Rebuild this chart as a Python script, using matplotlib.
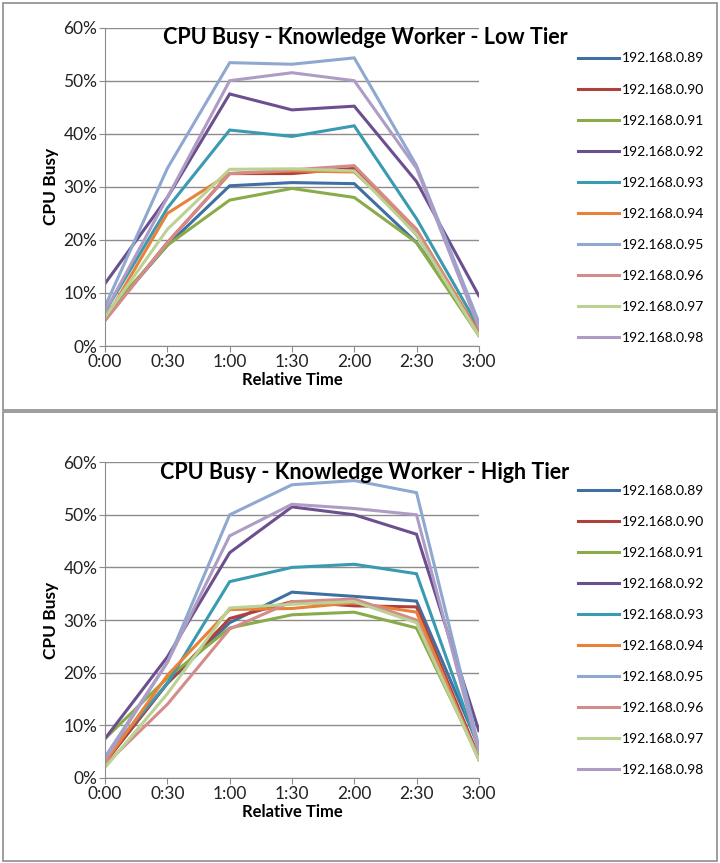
import matplotlib
matplotlib.use('Agg')
import matplotlib.pyplot as plt
from matplotlib.patches import Rectangle
from matplotlib.ticker import PercentFormatter

plt.rcParams['font.family'] = ['Lato', 'DejaVu Sans']

times = ['0:00', '0:30', '1:00', '1:30', '2:00', '2:30', '3:00']
hosts = ['192.168.0.89', '192.168.0.90', '192.168.0.91', '192.168.0.92', '192.168.0.93',
         '192.168.0.94', '192.168.0.95', '192.168.0.96', '192.168.0.97', '192.168.0.98']
colors = ['#3F6FA3', '#B0403C', '#8AAB4A', '#6B4F8E', '#3A9AB0',
          '#E8823A', '#8FA8D0', '#D48C8A', '#BCD194', '#AE9CC4']

# CPU busy (%) per host, low tier
low_89 = [5.5, 19.0, 30.2, 30.8, 30.6, 19.5, 3.0]
low_90 = [5.0, 19.5, 32.5, 32.5, 33.5, 21.0, 2.5]
low_91 = [6.0, 19.0, 27.5, 29.7, 28.0, 19.5, 2.0]
low_92 = [11.8, 28.0, 47.5, 44.5, 45.2, 31.0, 9.5]
low_93 = [6.5, 26.0, 40.7, 39.5, 41.5, 24.0, 3.5]
low_94 = [5.0, 25.0, 32.5, 33.0, 32.8, 22.0, 2.5]
low_95 = [7.5, 33.5, 53.4, 53.1, 54.3, 34.0, 4.5]
low_96 = [4.8, 19.5, 32.5, 33.2, 34.0, 22.0, 2.0]
low_97 = [5.5, 22.0, 33.3, 33.4, 33.0, 21.0, 2.0]
low_98 = [6.5, 28.0, 50.0, 51.5, 50.0, 33.5, 3.5]

# CPU busy (%) per host, high tier
high_89 = [3.0, 18.0, 29.5, 35.3, 34.5, 33.6, 6.0]
high_90 = [3.0, 18.0, 30.3, 33.5, 32.7, 32.5, 4.0]
high_91 = [7.5, 19.0, 28.5, 31.0, 31.5, 28.5, 4.0]
high_92 = [7.5, 23.0, 42.8, 51.5, 50.0, 46.3, 9.0]
high_93 = [4.0, 18.0, 37.3, 40.0, 40.6, 38.8, 5.5]
high_94 = [3.0, 19.5, 32.0, 32.2, 33.3, 31.5, 3.5]
high_95 = [4.0, 22.0, 50.0, 55.7, 56.5, 54.2, 6.0]
high_96 = [2.5, 14.0, 28.3, 33.5, 34.0, 30.0, 3.5]
high_97 = [2.0, 16.0, 32.3, 33.0, 33.5, 29.5, 3.5]
high_98 = [3.5, 22.0, 46.0, 52.0, 51.2, 50.0, 5.0]

low = [low_89, low_90, low_91, low_92, low_93, low_94, low_95, low_96, low_97, low_98]
high = [high_89, high_90, high_91, high_92, high_93, high_94, high_95, high_96, high_97, high_98]

fig = plt.figure(figsize=(7.2, 8.63), dpi=100)

# panel frames
fig.patches.append(Rectangle((0.004, 0.525), 0.992, 0.472, transform=fig.transFigure,
                             fill=False, edgecolor='#8c8c8c', linewidth=1.2))
fig.patches.append(Rectangle((0.004, 0.002), 0.992, 0.521, transform=fig.transFigure,
                             fill=False, edgecolor='#8c8c8c', linewidth=1.2))


def draw(rect, series, title, title_y, xlabel_y, legend_top):
    ax = fig.add_axes(rect)
    x = range(len(times))
    handles = []
    for vals, c in zip(series, colors):
        h, = ax.plot(x, vals, color=c, linewidth=2.2, solid_joinstyle='miter')
        handles.append(h)
    ax.set_xlim(0, len(times) - 1)
    ax.set_ylim(0, 60)
    ax.set_yticks(range(0, 61, 10))
    ax.yaxis.set_major_formatter(PercentFormatter(decimals=0))
    ax.set_xticks(list(x))
    ax.set_xticklabels(times)
    ax.grid(axis='y', color='#8c8c8c', linewidth=1.0)
    ax.set_axisbelow(True)
    for s in ('top', 'right'):
        ax.spines[s].set_visible(False)
    for s in ('left', 'bottom'):
        ax.spines[s].set_color('#8c8c8c')
    ax.tick_params(colors='#8c8c8c', labelcolor='#222222', labelsize=12.5, length=4, pad=1.5)
    ax.set_ylabel('CPU Busy', fontsize=12.5, fontweight='bold', labelpad=3)
    fig.text(0.406, xlabel_y, 'Relative Time', fontsize=12, fontweight='bold',
             ha='center', va='center')
    fig.text(0.507, title_y, title, fontsize=15.5, fontweight='bold', ha='center', va='center')
    fig.legend(handles, hosts, loc='upper left', bbox_to_anchor=(0.786, legend_top),
               frameon=False, fontsize=10, handlelength=2.9, handletextpad=0.2,
               labelspacing=1.37)
    return ax


draw([0.146, 0.599, 0.519, 0.369], low, 'CPU Busy - Knowledge Worker - Low Tier',
     1 - 38 / 863, 1 - 380 / 863, 1 - 40 / 863)
draw([0.146, 0.0985, 0.519, 0.366], high, 'CPU Busy - Knowledge Worker - High Tier',
     1 - 472 / 863, 1 - 812 / 863, 1 - 472 / 863)

fig.savefig('out.png', dpi=100)
